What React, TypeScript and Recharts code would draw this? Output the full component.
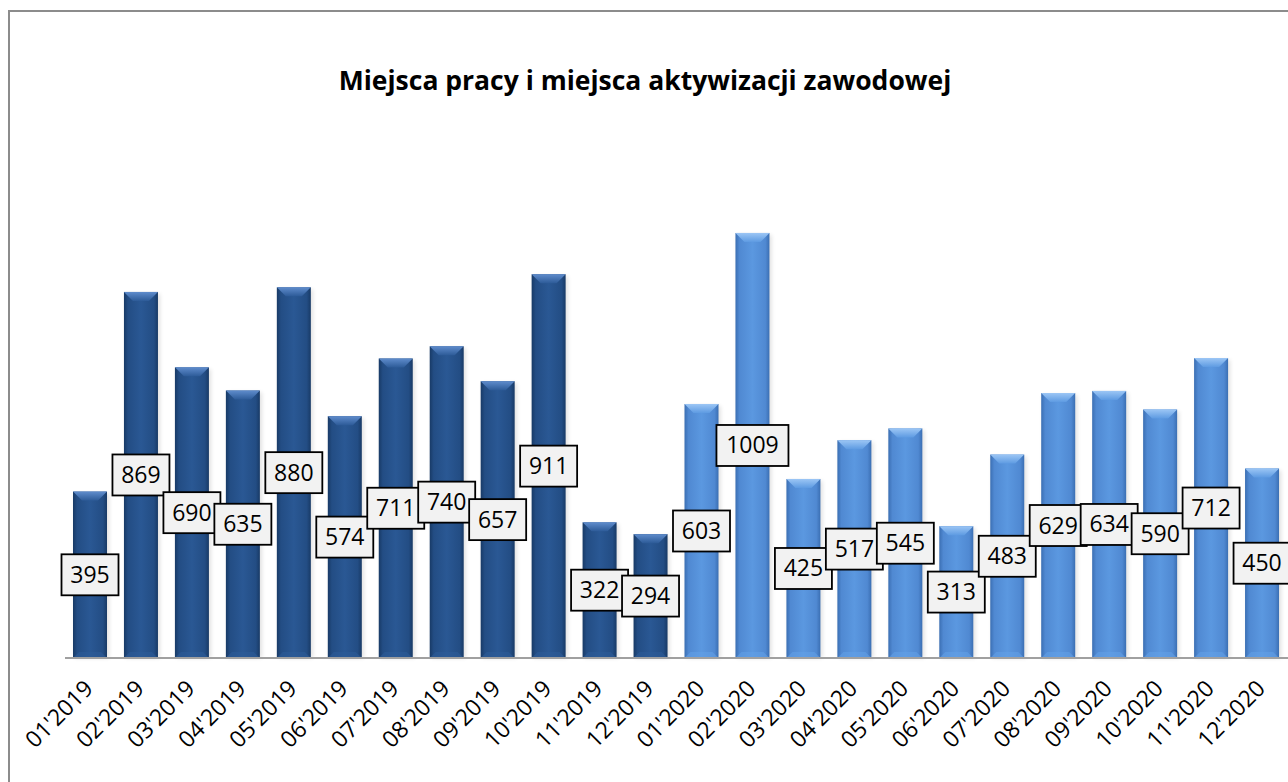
import React from 'react';
import { BarChart, Bar, XAxis, YAxis, LabelList } from 'recharts';

const months = [
  "01'2019", "02'2019", "03'2019", "04'2019", "05'2019", "06'2019",
  "07'2019", "08'2019", "09'2019", "10'2019", "11'2019", "12'2019",
  "01'2020", "02'2020", "03'2020", "04'2020", "05'2020", "06'2020",
  "07'2020", "08'2020", "09'2020", "10'2020", "11'2020", "12'2020",
];

const values = [
  395, 869, 690, 635, 880, 574, 711, 740, 657, 911, 322, 294,
  603, 1009, 425, 517, 545, 313, 483, 629, 634, 590, 712, 450,
];

const years = months.map(m => m.slice(3));

const data = months.map((m, i) => ({ month: m, value: values[i], year: years[i] }));

const FONT = '"Open Sans", sans-serif';

const BarShape = (props: any) => {
  const { x, y, width, height, payload } = props;
  if (!height || height <= 0) return null;
  const is19 = payload.year === '2019';
  const id = is19 ? 'g2019' : 'g2020';
  const capId = is19 ? 'c2019' : 'c2020';
  const bev = Math.min(9, height / 2);
  const b = y + height;
  return (
    <g>
      <rect x={x + 2} y={y + 2} width={width} height={height - 2} fill="#000" opacity={0.12} filter="url(#blur)" />
      <rect x={x} y={y} width={width} height={height} fill={`url(#${id})`} />
      <polygon
        points={`${x},${y} ${x + width},${y} ${x + width - bev},${y + bev} ${x + bev},${y + bev}`}
        fill={`url(#${capId})`}
      />
      <polygon
        points={`${x},${b} ${x + width},${b} ${x + width - 6},${b - 6} ${x + 6},${b - 6}`}
        fill={is19 ? '#2d5b98' : '#62a0e6'}
        opacity={0.6}
      />
    </g>
  );
};

const ValueLabel = (props: any) => {
  const { x, y, width, height, value } = props;
  const cx = x + width / 2;
  const cy = y + height / 2;
  const s = String(value);
  const w = 15 * s.length + 12;
  const h = 41;
  return (
    <g>
      <rect x={cx - w / 2} y={cy - h / 2} width={w} height={h} fill="#f2f2f2" stroke="#000" strokeWidth={1.8} />
      <text x={cx} y={cy + 8} textAnchor="middle" fontFamily={FONT} fontSize={23} fill="#000">
        {s}
      </text>
    </g>
  );
};

const MonthTick = (props: any) => {
  const { x, y, payload } = props;
  const ax = x + 4;
  const ay = y + 24;
  return (
    <text
      x={ax}
      y={ay}
      transform={`rotate(-45, ${ax}, ${ay})`}
      textAnchor="end"
      fontFamily={FONT}
      fontSize={23}
      fill="#000"
    >
      {payload.value}
    </text>
  );
};

export default function App() {
  return (
    <div style={{ position: 'absolute', left: 0, top: 0, width: 1288, height: 782, overflow: 'hidden', background: '#fff' }}>
      <style>{'html,body{overflow:hidden}'}</style>
      <div
        style={{
          position: 'absolute',
          left: 8,
          top: 10,
          width: 1400,
          height: 900,
          borderLeft: '2px solid #8c8c8c',
          borderTop: '2px solid #8c8c8c',
        }}
      />
      <div
        style={{
          position: 'absolute',
          left: 10,
          top: 62,
          width: 1270,
          textAlign: 'center',
          fontFamily: FONT,
          fontWeight: 700,
          fontSize: 26.5,
          color: '#000',
        }}
      >
        Miejsca pracy i miejsca aktywizacji zawodowej
      </div>
      <div style={{ position: 'absolute', left: 10, top: 12 }}>
        <BarChart
          width={1278}
          height={760}
          data={data}
          margin={{ top: 140.5, right: 0, bottom: 14, left: 55 }}
          barSize={34}
        >
          <defs>
            <linearGradient id="g2019" x1="0" y1="0" x2="1" y2="0">
              <stop offset="0%" stopColor="#183a66" />
              <stop offset="12%" stopColor="#234d84" />
              <stop offset="50%" stopColor="#2a5894" />
              <stop offset="88%" stopColor="#234d84" />
              <stop offset="100%" stopColor="#183a66" />
            </linearGradient>
            <linearGradient id="c2019" x1="0" y1="0" x2="0" y2="1">
              <stop offset="0%" stopColor="#5f8ccc" />
              <stop offset="100%" stopColor="#2d5b98" />
            </linearGradient>
            <linearGradient id="g2020" x1="0" y1="0" x2="1" y2="0">
              <stop offset="0%" stopColor="#3b6fb3" />
              <stop offset="12%" stopColor="#5089d2" />
              <stop offset="50%" stopColor="#5b98e0" />
              <stop offset="88%" stopColor="#5089d2" />
              <stop offset="100%" stopColor="#3b6fb3" />
            </linearGradient>
            <linearGradient id="c2020" x1="0" y1="0" x2="0" y2="1">
              <stop offset="0%" stopColor="#9cc6f5" />
              <stop offset="100%" stopColor="#5e9be2" />
            </linearGradient>
            <filter id="blur" x="-20%" y="-20%" width="140%" height="140%">
              <feGaussianBlur stdDeviation="2" />
            </filter>
          </defs>
          <XAxis
            dataKey="month"
            interval={0}
            height={100}
            tickLine={false}
            axisLine={{ stroke: '#a0a0a0', strokeWidth: 2 }}
            tick={<MonthTick />}
          />
          <YAxis hide domain={[0, 1200]} />
          <Bar dataKey="value" shape={<BarShape />} isAnimationActive={false}>
            <LabelList dataKey="value" content={<ValueLabel />} />
          </Bar>
        </BarChart>
      </div>
    </div>
  );
}
